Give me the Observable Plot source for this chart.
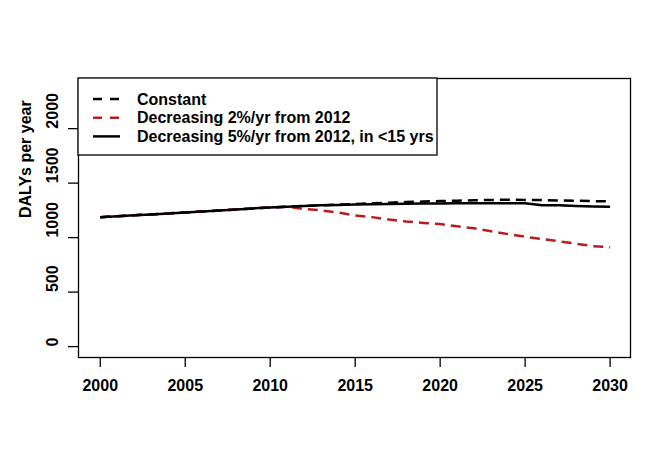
<!DOCTYPE html>
<html>
<head>
<meta charset="utf-8">
<script src="https://cdn.jsdelivr.net/npm/d3@7"></script>
<script src="https://cdn.jsdelivr.net/npm/@observablehq/plot@0.6"></script>
<style>
  html, body { margin: 0; padding: 0; background: white; }
  #chart { position: relative; width: 671px; height: 455px; }
</style>
</head>
<body>
<div id="chart"></div>
<script>
const years = [2000,2001,2002,2003,2004,2005,2006,2007,2008,2009,2010,2011,2012,2013,2014,2015,2016,2017,2018,2019,2020,2021,2022,2023,2024,2025,2026,2027,2028,2029,2030];

const seriesNames = ["Constant", "Decreasing 2%/yr from 2012", "Decreasing 5%/yr from 2012, in <15 yrs"];

const constant = [1188,1197,1205,1213,1222,1231,1240,1249,1259,1268,1277,1284,1291,1297,1303,1309,1315,1321,1326,1331,1335,1339,1343,1346,1347,1346,1344,1341,1338,1335,1333];
const decreasing2 = [1188,1197,1205,1213,1222,1231,1240,1249,1259,1268,1277,1284,1262,1250,1230,1203,1188,1166,1148,1135,1124,1104,1085,1058,1032,1008,987,966,944,922,911];
const decreasing5 = [1188,1197,1205,1213,1222,1231,1240,1249,1259,1268,1277,1284,1291,1297,1300,1304,1307,1309,1311,1313,1314,1315,1315,1316,1316,1315,1298,1296,1291,1286,1284];

const xTicks = [2000, 2005, 2010, 2015, 2020, 2025, 2030];
const yTicks = [0, 500, 1000, 1500, 2000];
const yLabel = "DALYs per year";

const seriesValues = [constant, decreasing2, decreasing5];
const seriesColors = ["black", "#b81e1e", "black"];
const seriesDash = ["10,6", "10,6", null];

const table = seriesNames.flatMap((name, i) =>
  years.map((year, j) => ({series: name, year, value: seriesValues[i][j]}))
);

const font = "'Liberation Sans', Arial, sans-serif";

const lineMarks = [0, 1, 2].map(i =>
  Plot.line(table.filter(d => d.series === seriesNames[i]), {
    x: "year", y: "value",
    stroke: seriesColors[i],
    strokeWidth: 2.5,
    strokeDasharray: seriesDash[i] ?? undefined,
    strokeLinecap: "butt"
  })
);

const chart = Plot.plot({
  width: 671,
  height: 455,
  marginLeft: 78,
  marginRight: 41,
  marginTop: 78,
  marginBottom: 98,
  x: {domain: [1998.72, 2031.2]},
  y: {domain: [-100, 2460]},
  style: {fontFamily: font, fontSize: "16px", fontWeight: "bold", background: "white", color: "black"},
  marks: [
    Plot.axisX({ticks: xTicks, tickSize: 10, tickPadding: 12, tickFormat: d => String(d), label: null, fontSize: 16, fontWeight: "bold", strokeWidth: 1.3}),
    Plot.axisY({ticks: yTicks, tickSize: 10, tickFormat: () => "", label: null, strokeWidth: 1.3}),
    Plot.text(yTicks, {y: d => d, frameAnchor: "left", dx: -26, rotate: -90, text: d => String(d), fontSize: 16, fontWeight: "bold", fill: "black"}),
    Plot.text([yLabel], {frameAnchor: "left", dx: -53, rotate: -90, text: d => d, fontSize: 16, fontWeight: "bold", fill: "black"}),
    lineMarks[0],
    lineMarks[1],
    lineMarks[2],
    Plot.frame({stroke: "black", strokeWidth: 1.3})
  ]
});

document.getElementById("chart").appendChild(chart);

// Legend (top-left inside the plot box)
const svg = d3.select(chart);
const lg = svg.append("g");
lg.append("rect")
  .attr("x", 78).attr("y", 78).attr("width", 359).attr("height", 77)
  .attr("fill", "white").attr("stroke", "black").attr("stroke-width", 1.3);
seriesNames.forEach((name, i) => {
  const cy = 99 + i * 18.7;
  lg.append("line")
    .attr("x1", 93).attr("x2", 120).attr("y1", cy).attr("y2", cy)
    .attr("stroke", seriesColors[i]).attr("stroke-width", 2.5)
    .attr("stroke-dasharray", seriesDash[i] ? "9,8" : null);
  lg.append("text")
    .attr("x", 137).attr("y", cy).attr("dy", "0.35em")
    .attr("text-anchor", "start")
    .attr("font-family", font).attr("font-size", 16).attr("font-weight", "bold")
    .attr("fill", "black")
    .text(name);
});
</script>
</body>
</html>
